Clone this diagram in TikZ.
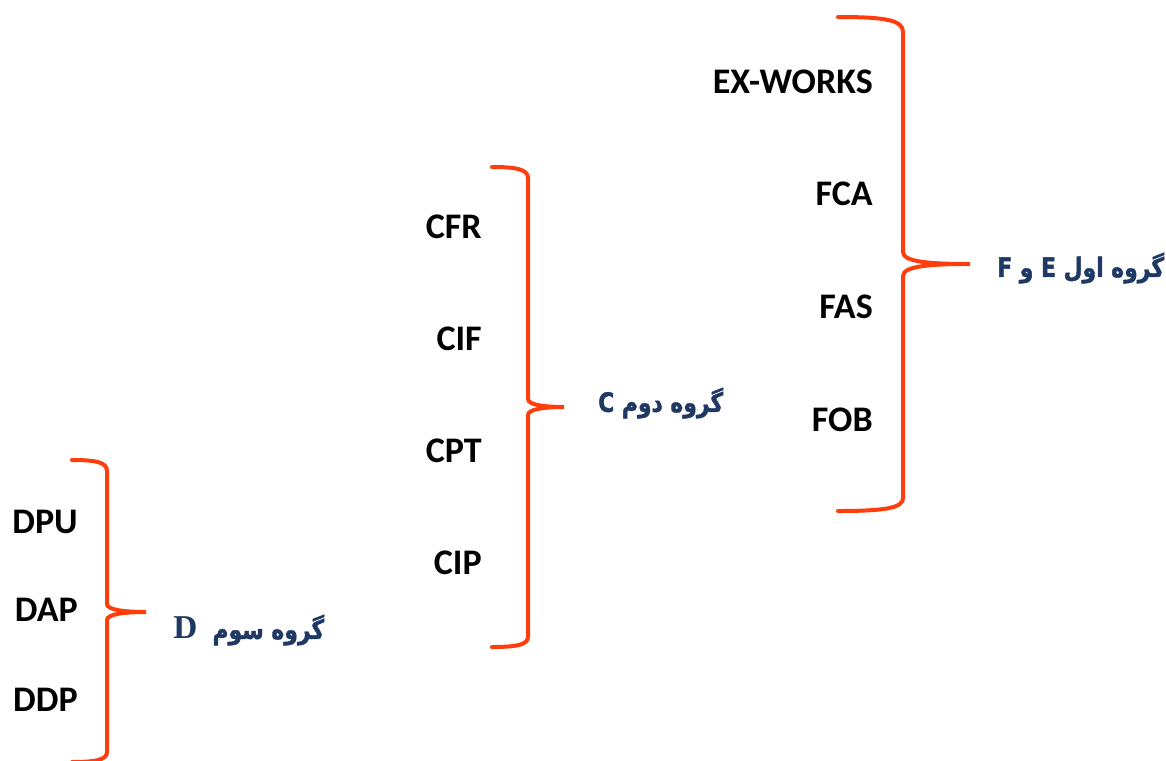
\documentclass[tikz,border=0pt]{standalone}
\usepackage{fontspec}
\setmainfont{Carlito}
\newfontfamily\farsi[Script=Arabic,FakeStretch=0.82,BoldFeatures={FakeBold=1.6}]{DejaVu Sans}
\newfontfamily\timesd{Liberation Serif}
\TeXXeTstate=1
\usetikzlibrary{positioning}
\definecolor{braceorange}{HTML}{FF3D0D}
\definecolor{grpblue}{HTML}{1F3864}

\begin{document}
\begin{tikzpicture}[x=0.75pt,y=-0.75pt,
    term/.style={anchor=east,inner sep=0pt,font=\fontsize{27}{30}\selectfont\bfseries},
    grp/.style={anchor=west,inner sep=0pt,text=grpblue,font=\farsi\fontsize{20}{24}\selectfont\bfseries},
    brc/.style={draw=braceorange,line width=3pt,line cap=round}]
    \useasboundingbox (0,0) rectangle (1166,760);

    % first group: E and F terms
    \node[term] (exw) at (873,82)  {EX-WORKS};
    \node[term] (fca) at (873,194) {FCA};
    \node[term] (fas) at (873,307) {FAS};
    \node[term] (fob) at (873,420) {FOB};
    \node[grp]  (grpef) at (997,268) {\beginR گروه اول E و F\endR};

    % second group: C terms
    \node[term] (cfr) at (482,227) {CFR};
    \node[term] (cif) at (482,339) {CIF};
    \node[term] (cpt) at (482,451) {CPT};
    \node[term] (cip) at (482,563) {CIP};
    \node[grp]  (grpc) at (598,403) {\beginR گروه دوم C\endR};

    % third group: D terms
    \node[term] (dpu) at (78,522) {DPU};
    \node[term] (dap) at (78,610) {DAP};
    \node[term] (ddp) at (78,700) {DDP};
    \node[grp]  (grpd) at (173,630) {\beginR گروه سوم\ \ {\timesd\fontsize{25}{26}\selectfont D}\endR};

    \begin{scope}
        \clip (0,0) rectangle (1166,760);
        \draw[brc] (838,17) .. controls (885,17) and (903,20) .. (903,32)
            -- (903,252) .. controls (903,262) and (930,264) .. (970,264)
            .. controls (930,264) and (903,266) .. (903,276)
            -- (903,498) .. controls (903,508) and (885,511) .. (838,511);
        \draw[brc] (492,167) .. controls (515,167) and (528,169) .. (528,178)
            -- (528,399) .. controls (528,405) and (545,407) .. (564,407)
            .. controls (545,407) and (528,409) .. (528,415)
            -- (528,637) .. controls (528,645) and (515,647) .. (492,647);
        \draw[brc] (72,460) .. controls (95,460) and (107,462) .. (107,471)
            -- (107,604) .. controls (107,610) and (125,612) .. (146,612)
            .. controls (125,612) and (107,614) .. (107,620)
            -- (107,752) .. controls (107,760) and (95,762) .. (72,762);
    \end{scope}
\end{tikzpicture}
\end{document}
